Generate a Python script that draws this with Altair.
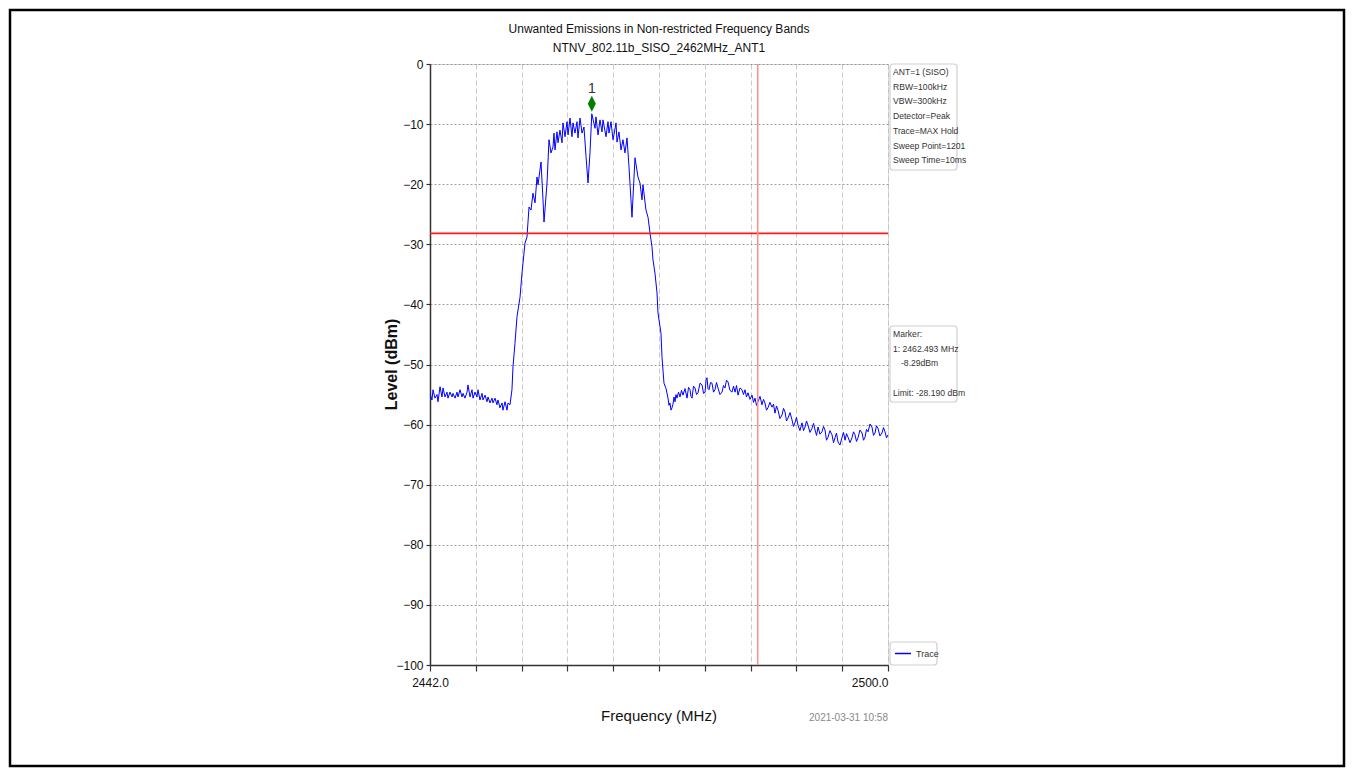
import altair as alt
import pandas as pd

# ---------------- data ----------------
FREQ_MHZ = [
    2442.00, 2442.25, 2442.38, 2442.63, 2442.89, 2443.01, 2443.27, 2443.52, 2443.65, 2443.90,
    2444.15, 2444.28, 2444.53, 2444.79, 2444.91, 2445.17, 2445.42, 2445.55, 2445.80, 2446.05,
    2446.18, 2446.43, 2446.69, 2446.81, 2447.07, 2447.32, 2447.45, 2447.70, 2447.95, 2448.08,
    2448.33, 2448.59, 2448.71, 2448.97, 2449.22, 2449.35, 2449.60, 2449.85, 2449.98, 2450.23,
    2450.48, 2450.61, 2450.86, 2451.12, 2451.24, 2451.50, 2451.75, 2451.88, 2452.13,
    2452.38, 2452.51, 2452.76, 2453.02, 2453.40, 2453.65, 2454.03, 2454.28, 2454.54, 2454.79,
    2455.04, 2455.30, 2455.55, 2455.68, 2456.06, 2456.31, 2456.44, 2456.82, 2457.07, 2457.32,
    2457.58, 2457.70, 2457.83, 2458.08, 2458.21, 2458.46, 2458.72, 2458.84, 2459.10, 2459.35,
    2459.48, 2459.73, 2459.98, 2460.11, 2460.36, 2460.62, 2460.74, 2461.00, 2461.25, 2461.50,
    2461.76, 2462.01, 2462.26, 2462.49, 2462.90, 2463.02, 2463.28, 2463.53, 2463.78, 2463.91,
    2464.29, 2464.54, 2464.67, 2464.92, 2465.18, 2465.56, 2465.68, 2465.93, 2466.19, 2466.44,
    2466.69, 2466.95, 2467.20, 2467.45, 2467.58, 2467.96, 2468.34, 2468.59, 2468.85, 2468.97,
    2469.35, 2469.61, 2469.86, 2470.11, 2470.24, 2470.49, 2470.75, 2470.87, 2471.25, 2471.38,
    2471.63, 2471.89,
    2472.14, 2472.27, 2472.39, 2472.52, 2472.65, 2472.77, 2472.90, 2473.03, 2473.15, 2473.28,
    2473.47, 2473.66, 2473.85, 2474.04, 2474.29, 2474.55, 2474.74, 2474.93, 2475.05, 2475.18,
    2475.37, 2475.56, 2475.75, 2475.94, 2476.20, 2476.45, 2476.64, 2476.83, 2476.96, 2477.08,
    2477.20, 2477.33, 2477.52, 2477.71, 2477.90, 2478.09, 2478.28, 2478.47, 2478.72, 2478.98,
    2479.17, 2479.36, 2479.55, 2479.74, 2479.99, 2480.24, 2480.44, 2480.63, 2480.82, 2481.01,
    2481.26, 2481.51, 2481.70, 2481.89, 2482.08, 2482.27, 2482.52, 2482.78, 2482.97, 2483.16,
    2483.35, 2483.54, 2483.79, 2484.04, 2484.23, 2484.42, 2484.61, 2484.80, 2485.05, 2485.31,
    2485.50, 2485.69, 2485.88, 2486.07, 2486.32, 2486.58, 2486.77, 2486.96, 2487.15, 2487.34,
    2487.59, 2487.84, 2488.03, 2488.22, 2488.41, 2488.60, 2488.85, 2489.11, 2489.30, 2489.49,
    2489.68, 2489.87, 2490.12, 2490.38, 2490.57, 2490.76, 2490.95, 2491.14, 2491.39, 2491.64,
    2491.83, 2492.02, 2492.21, 2492.40, 2492.65, 2492.91, 2493.10, 2493.29, 2493.48, 2493.67,
    2493.92, 2494.18, 2494.37, 2494.56, 2494.75, 2494.94, 2495.19, 2495.44, 2495.63, 2495.82,
    2496.01, 2496.20, 2496.45, 2496.71, 2496.90, 2497.09, 2497.28, 2497.47, 2497.72, 2497.97,
    2498.16, 2498.35, 2498.54, 2498.73, 2498.98, 2499.24, 2499.43, 2499.62, 2499.81, 2500.00,
]
LEVEL_DBM = [
    -54.8, -55.9, -54.2, -55.6, -55.0, -56.2, -53.7, -55.4, -53.9, -55.4,
    -54.6, -55.6, -54.6, -55.4, -54.8, -55.6, -54.6, -55.4, -54.2, -55.4,
    -54.8, -55.6, -54.6, -53.4, -55.4, -54.2, -55.6, -54.6, -55.4, -54.2,
    -55.9, -54.8, -55.9, -55.1, -56.2, -55.4, -56.4, -55.6, -56.4, -55.6,
    -56.7, -55.9, -57.2, -56.4, -57.6, -56.2, -57.6, -56.4, -56.7,
    -54.2, -50.4, -46.5, -42.0, -38.8, -34.8, -29.8, -28.8, -23.8, -24.3,
    -21.5, -23.1, -18.8, -20.1, -16.3, -22.6, -26.3, -19.8, -12.6, -14.8,
    -13.8, -11.5, -14.3, -11.3, -13.1, -11.0, -13.1, -9.8, -12.1, -9.6,
    -11.8, -9.0, -12.1, -9.8, -11.5, -9.6, -12.3, -9.0, -11.5, -10.5,
    -15.4, -19.8, -14.8, -8.29, -10.7, -8.8, -11.8, -9.3, -11.3, -9.3,
    -12.1, -9.6, -11.5, -9.6, -12.6, -9.8, -13.0, -11.3, -14.3, -12.6,
    -14.8, -12.3, -17.1, -22.6, -25.5, -15.6, -18.8, -19.8, -22.6, -20.1,
    -24.3, -25.5, -28.1, -30.4, -32.6, -34.8, -38.1, -41.4, -44.8, -48.8,
    -53.1, -54.0,
    -55.6, -56.8, -56.4, -57.6, -57.2, -56.6, -55.4, -56.2, -55.0, -55.6,
    -54.6, -55.4, -54.3, -55.1, -54.0, -55.6, -53.8, -54.2, -55.3, -55.6,
    -53.6, -53.9, -55.0, -54.7, -53.1, -53.4, -54.8, -54.6, -52.6, -52.2,
    -54.0, -54.2, -53.0, -53.1, -54.6, -54.2, -53.0, -53.9, -55.0, -54.6,
    -53.5, -53.9, -52.6, -52.9, -54.3, -54.6, -53.6, -54.6, -53.5, -55.1,
    -53.9, -54.2, -55.0, -54.2, -55.4, -54.7, -55.8, -55.1, -56.3, -55.6,
    -56.8, -56.2, -55.3, -56.7, -55.8, -56.4, -57.6, -57.2, -56.3, -57.1,
    -56.6, -58.1, -56.9, -57.6, -59.0, -58.4, -57.3, -57.9, -59.4, -58.9,
    -58.0, -59.2, -60.3, -59.7, -58.8, -60.1, -61.0, -59.7, -61.0, -60.4,
    -59.4, -60.1, -61.3, -60.6, -59.8, -60.9, -61.8, -60.4, -61.6, -61.2,
    -60.3, -60.9, -62.6, -62.1, -61.0, -61.7, -63.0, -62.2, -61.4, -62.9,
    -63.4, -62.1, -61.3, -62.6, -61.5, -62.1, -63.0, -62.2, -61.2, -61.7,
    -62.8, -62.2, -60.9, -61.4, -62.6, -62.1, -60.8, -61.2, -59.9, -60.4,
    -61.8, -61.4, -60.2, -60.6, -61.9, -61.4, -60.5, -61.2, -62.2, -61.7,
]

X_DOMAIN = [2442.0, 2500.0]
Y_DOMAIN = [-100, 0]
X_TICKS = [2442.0, 2447.8, 2453.6, 2459.4, 2465.2, 2471.0, 2476.8, 2482.6, 2488.4, 2494.2, 2500.0]
Y_TICKS = [-100, -90, -80, -70, -60, -50, -40, -30, -20, -10, 0]

LIMIT_DBM = -28.19
BAND_EDGE_MHZ = 2483.5
MARKER_FREQ = 2462.493
MARKER_LEVEL = -8.29
MARKER_LABEL = "1"

TITLE_LINES = ["Unwanted Emissions in Non-restricted Frequency Bands", "NTNV_802.11b_SISO_2462MHz_ANT1"]
X_TITLE = "Frequency (MHz)"
Y_TITLE = "Level (dBm)"
TIMESTAMP = "2021-03-31 10:58"
INFO_LINES = ["ANT=1 (SISO)", "RBW=100kHz", "VBW=300kHz", "Detector=Peak",
              "Trace=MAX Hold", "Sweep Point=1201", "Sweep Time=10ms"]
MARKER_LINES = ["Marker:", "1: 2462.493 MHz", "-8.29dBm", "", "Limit: -28.190 dBm"]
MARKER_INDENT = [0, 0, 8, 0, 0]
LEGEND_LABEL = "Trace"

# ---------------- chart ----------------
W, H = 458, 601
PAD = {"left": 422, "top": 56, "right": 458, "bottom": 103}
FONT = "Liberation Sans Narrow, Arial Narrow, Liberation Sans, sans-serif"

trace_df = pd.DataFrame({"freq": FREQ_MHZ, "level": LEVEL_DBM})

xscale = alt.Scale(domain=X_DOMAIN, nice=False, zero=False)
yscale = alt.Scale(domain=Y_DOMAIN, nice=False)

x_axis = alt.Axis(
    values=X_TICKS, title=None,
    labelExpr="abs(datum.value - 2442) < 0.01 || abs(datum.value - 2500) < 0.01 ? format(datum.value, '.1f') : ''",
    labelAlign=alt.condition("datum.value > 2490", alt.value("right"), alt.value("center")),
    labelFont=FONT, labelFontSize=12, labelColor="#111", labelPadding=6,
    tickSize=6, tickColor="#333", tickWidth=1.2, domainColor="#333", domainWidth=1.5,
    grid=True, gridColor="#bdbdbd", gridDash=[5, 3], gridWidth=0.8,
)
y_axis = alt.Axis(
    values=Y_TICKS, title=None, format="d",
    labelFont=FONT, labelFontSize=12, labelColor="#111", labelPadding=3,
    tickSize=4, tickColor="#333", tickWidth=1.2, domainColor="#333", domainWidth=1.5,
    grid=True, gridColor="#777777", gridDash=[2, 2], gridWidth=0.7,
)

trace = alt.Chart(trace_df).mark_line(color="#0000ff", strokeWidth=1, clip=True).encode(
    x=alt.X("freq:Q", scale=xscale, axis=x_axis),
    y=alt.Y("level:Q", scale=yscale, axis=y_axis),
)

limit = alt.Chart(pd.DataFrame({"level": [LIMIT_DBM]})).mark_rule(
    color="#ff1a1a", strokeWidth=1.8
).encode(y=alt.Y("level:Q", scale=yscale))

edge = alt.Chart(pd.DataFrame({"freq": [BAND_EDGE_MHZ]})).mark_rule(
    color="#ff8a8a", strokeWidth=1.5
).encode(x=alt.X("freq:Q", scale=xscale))

mk_df = pd.DataFrame({"freq": [MARKER_FREQ], "level": [MARKER_LEVEL], "lab": [MARKER_LABEL]})
marker = alt.Chart(mk_df).mark_point(
    shape="M0,-1L0.5,0L0,1L-0.5,0Z", size=256, filled=True, color="#007f00", opacity=1, yOffset=-10
).encode(x=alt.X("freq:Q", scale=xscale), y=alt.Y("level:Q", scale=yscale))
marker_txt = alt.Chart(mk_df).mark_text(
    font=FONT, fontSize=14, color="#333", yOffset=-25, baseline="middle"
).encode(x=alt.X("freq:Q", scale=xscale), y=alt.Y("level:Q", scale=yscale), text="lab:N")

one = pd.DataFrame({"k": [0]})


def txt(text, x, y, **kw):
    return alt.Chart(one).mark_text(**kw).encode(
        x=alt.value(x), y=alt.value(y), text=alt.value(text))


def box(x, x2, y, y2):
    return alt.Chart(one).mark_rect(
        fill="white", stroke="#cfcfcf", strokeWidth=1.2, cornerRadius=3
    ).encode(x=alt.value(x), x2=alt.value(x2), y=alt.value(y), y2=alt.value(y2))


def lines(items, x, y0, step, size, indents=None):
    indents = indents or [0] * len(items)
    return [txt(s, x + indents[i], y0 + i * step, font=FONT, fontSize=size, color="#333",
                align="left", baseline="middle") for i, s in enumerate(items) if s]


title1 = txt(TITLE_LINES[0], W / 2, -35, font=FONT, fontSize=12, color="#111", align="center", baseline="middle")
title2 = txt(TITLE_LINES[1], W / 2, -16, font=FONT, fontSize=12, color="#111", align="center", baseline="middle")
xtitle = txt(X_TITLE, W / 2, 652, font=FONT, fontSize=15, color="#111", align="center", baseline="middle")
ytitle = txt(Y_TITLE, -38, H / 2, font="Liberation Sans", fontSize=16, fontWeight="bold", color="#111",
             align="center", baseline="middle", angle=270)
stamp = txt(TIMESTAMP, W, 654, font=FONT, fontSize=10, color="#888", align="right", baseline="middle")

info_box = box(460, 527, 0, 106)
info_txt = lines(INFO_LINES, 463, 8, 14.7, 8.6)
mark_box = box(460, 527, 262, 338)
mark_txt = lines(MARKER_LINES, 463, 270, 14.7, 8.6, MARKER_INDENT)
leg_box = box(460, 507, 578, 601)
leg_line = alt.Chart(one).mark_rule(color="#0000ff", strokeWidth=1.5).encode(
    x=alt.value(465), x2=alt.value(481), y=alt.value(589.5))
leg_txt = txt(LEGEND_LABEL, 486, 590, font=FONT, fontSize=9, color="#333", align="left", baseline="middle")

frame = alt.Chart(one).mark_rect(fill=None, stroke="#000", strokeWidth=2.5).encode(
    x=alt.value(-420), x2=alt.value(W + PAD["right"] - 2),
    y=alt.value(-54), y2=alt.value(H + PAD["bottom"] - 2))

chart = alt.layer(
    trace, limit, edge, marker, marker_txt,
    title1, title2, xtitle, ytitle, stamp,
    info_box, *info_txt, mark_box, *mark_txt, leg_box, leg_line, leg_txt, frame,
).properties(
    width=W, height=H, padding=PAD, autosize=alt.AutoSizeParams(type="none"),
).configure_view(
    stroke="#2a2a2a", strokeWidth=1.5
).configure(background="white")

chart.save("out.html", embed_options={"renderer": "svg", "actions": False})
